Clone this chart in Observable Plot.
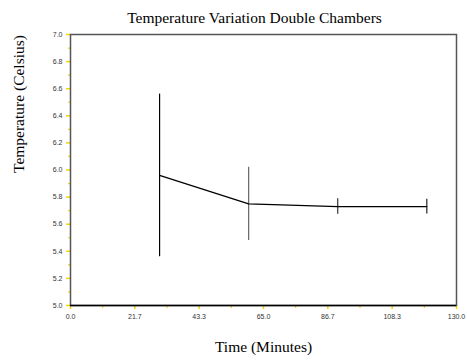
<!DOCTYPE html>
<html>
<head>
<meta charset="utf-8">
<script src="https://cdn.jsdelivr.net/npm/d3@7"></script>
<script src="https://cdn.jsdelivr.net/npm/@observablehq/plot@0.6"></script>
<style>
  body { margin: 0; background: #fff; }
</style>
</head>
<body>
<div id="chart"></div>
<script>
const times = [30, 60, 90, 120];
const temps = [5.96, 5.75, 5.73, 5.73];
const errors = [0.60, 0.27, 0.057, 0.055];
const barColors = ["#000", "#666", "#333", "#222"];
const xTickValues = d3.range(0, 7).map(i => i * 130 / 6);
const xMinorValues = d3.range(0, 6).map(i => i * 130 / 6 + 65 / 6);
const yTickValues = d3.range(0, 11).map(i => 5 + i * 0.2);
const yMinorValues = d3.range(0, 10).map(i => 5.1 + i * 0.2);

const data = times.map((t, i) => ({t, v: temps[i], e: errors[i], c: barColors[i]}));
const yellow = "#f5d20a";
const serif = "Liberation Serif, Times New Roman, serif";

const chart = Plot.plot({
  width: 467,
  height: 363,
  marginTop: 34,
  marginLeft: 70,
  marginRight: 11,
  marginBottom: 58,
  style: {background: "#fff", fontFamily: "Liberation Sans, Arial, sans-serif"},
  x: {domain: [0, 130]},
  y: {domain: [5, 7]},
  marks: [
    Plot.axisX({ticks: xTickValues, tickSize: 4, stroke: yellow, strokeWidth: 1.5, fill: "#333", fontSize: 7, tickFormat: d3.format(".1f"), tickPadding: 5, label: null}),
    Plot.axisX({ticks: xMinorValues, tickSize: 3, stroke: yellow, strokeWidth: 1.2, text: null, label: null}),
    Plot.axisY({ticks: yTickValues, tickSize: 4, stroke: yellow, strokeWidth: 1.5, fill: "#333", fontSize: 7, tickFormat: d3.format(".1f"), tickPadding: 4, label: null}),
    Plot.axisY({ticks: yMinorValues, tickSize: 2, stroke: yellow, strokeWidth: 1.2, text: null, label: null}),
    Plot.frame({stroke: "#555", strokeWidth: 1.5}),
    Plot.ruleY([5], {stroke: "#000", strokeWidth: 1.5}),
    Plot.ruleX(data, {x: "t", y1: d => d.v - d.e, y2: d => d.v + d.e, stroke: "c", strokeWidth: 1.2}),
    Plot.line(data, {x: "t", y: "v", stroke: "#000", strokeWidth: 1.3}),
    Plot.text(["Temperature Variation Double Chambers"], {frameAnchor: "top", dy: -22.5, dx: -9, fontSize: 15.5, fontFamily: serif, fill: "#000"}),
    Plot.text(["Temperature (Celsius)"], {frameAnchor: "left", dx: -51, dy: 3, rotate: -90, fontSize: 15.5, fontFamily: serif, fill: "#000"}),
    Plot.text(["Time (Minutes)"], {frameAnchor: "bottom", dy: 46, fontSize: 15.5, fontFamily: serif, fill: "#000"})
  ]
});
document.getElementById("chart").appendChild(chart);
</script>
</body>
</html>
